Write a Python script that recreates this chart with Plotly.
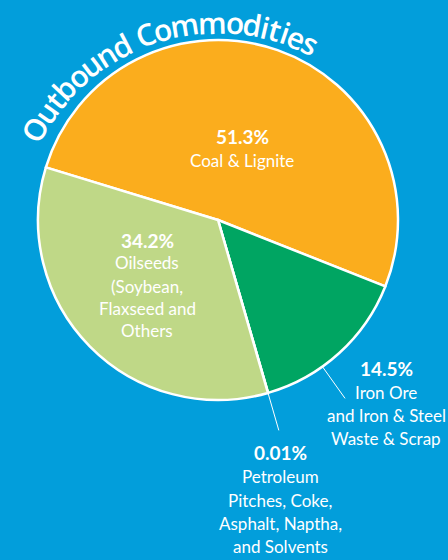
import math
import plotly.graph_objects as go

# ---- data ----
categories = ["Coal & Lignite", "Iron Ore and Iron & Steel Waste & Scrap",
              "Petroleum Pitches, Coke, Asphalt, Naptha, and Solvents",
              "Oilseeds (Soybean, Flaxseed and Others"]
values = [51.3, 14.5, 0.01, 34.2]
pct_labels = ["51.3%", "14.5%", "0.01%", "34.2%"]
desc_lines = [
    ["Coal & Lignite"],
    ["Iron Ore", "and Iron & Steel", "Waste & Scrap"],
    ["Petroleum", "Pitches, Coke,", "Asphalt, Naptha,", "and Solvents"],
    ["Oilseeds", "(Soybean,", "Flaxseed and", "Others"],
]
title_text = "Outbound Commodities"

# ---- style / layout ----
W, H = 448, 560
BG = "rgb(2,158,219)"
colors = ["rgb(251,173,29)", "rgb(0,165,98)", "rgb(0,165,98)", "rgb(191,216,135)"]
CX, CY, R = 218, 220, 180
ROT = -73  # degrees (plotly rotation)
FONT = "Lato"

def px(x):
    return x / W

def py(y):
    return 1 - y / H

fig = go.Figure()
fig.add_trace(go.Pie(
    labels=categories, values=values, sort=False, direction="clockwise",
    rotation=ROT, marker=dict(colors=colors, line=dict(color="white", width=2.5)),
    textinfo="none", hoverinfo="skip", showlegend=False,
    domain=dict(x=[px(CX - R), px(CX + R)], y=[py(CY + R), py(CY - R)]),
))

annotations = []
shapes = []

# label positions (pixel centres)
label_pos = [
    (242, [136, 160]),
    (386, [368, 392, 415, 438]),
    (280, [452, 476, 500, 523, 546]),
    (147, [240, 262, 286, 308, 330]),
]
for i, (xc, ys) in enumerate(label_pos):
    annotations.append(dict(x=px(xc), y=py(ys[0]), xref="paper", yref="paper",
                            text="<b>" + pct_labels[i] + "</b>", showarrow=False,
                            xanchor="center", yanchor="middle",
                            font=dict(family=FONT, size=19, color="white")))
    for line, yy in zip(desc_lines[i], ys[1:]):
        annotations.append(dict(x=px(xc), y=py(yy), xref="paper", yref="paper",
                                text=line, showarrow=False,
                                xanchor="center", yanchor="middle",
                                font=dict(family=FONT, size=17, color="white")))

# leader lines computed from slice angles
total = sum(values)
start = 90 - ROT  # math angle of first slice start
cum = [start]
for v in values:
    cum.append(cum[-1] - v / total * 360)
leader_angles = [cum[1] + 0.63 * (cum[2] - cum[1]), (cum[2] + cum[3]) / 2]
for a in leader_angles:
    t = math.radians(a)
    x0, y0 = CX + R * math.cos(t), CY - R * math.sin(t)
    x1, y1 = CX + 219 * math.cos(t), CY - 219 * math.sin(t)
    shapes.append(dict(type="line", xref="paper", yref="paper",
                       x0=px(x0), y0=py(y0), x1=px(x1), y1=py(y1),
                       line=dict(color="white", width=1)))

# curved title
cw = {"O": .78, "u": .62, "t": .40, "b": .62, "o": .60, "n": .62, "d": .62,
      " ": .26, "C": .62, "m": .94, "i": .28, "e": .57, "s": .50}
widths = [cw[c] for c in title_text]
centers = []
acc = 0
for w_ in widths:
    centers.append(acc + w_ / 2)
    acc += w_
TCX, TCY, TR = 218, 232, 210
A0, A1 = 150.8, 63.8
for ch, c in zip(title_text, centers):
    if ch == " ":
        continue
    f = (c - centers[0]) / (centers[-1] - centers[0])
    ang = A0 + f * (A1 - A0)
    t = math.radians(ang)
    x = TCX + TR * math.cos(t)
    y = TCY - TR * math.sin(t)
    annotations.append(dict(x=px(x), y=py(y), xref="paper", yref="paper",
                            text=ch, showarrow=False, textangle=90 - ang,
                            xanchor="center", yanchor="middle",
                            font=dict(family="Open Sans", size=30, color="white", weight=600)))

fig.update_layout(
    width=W, height=H, margin=dict(l=0, r=0, t=0, b=0),
    paper_bgcolor=BG, plot_bgcolor=BG,
    annotations=annotations, shapes=shapes,
)
fig.write_html("out.html", config={"displayModeBar": False},
               post_script="document.body.style.margin='0';document.body.style.background='" + BG + "';")
